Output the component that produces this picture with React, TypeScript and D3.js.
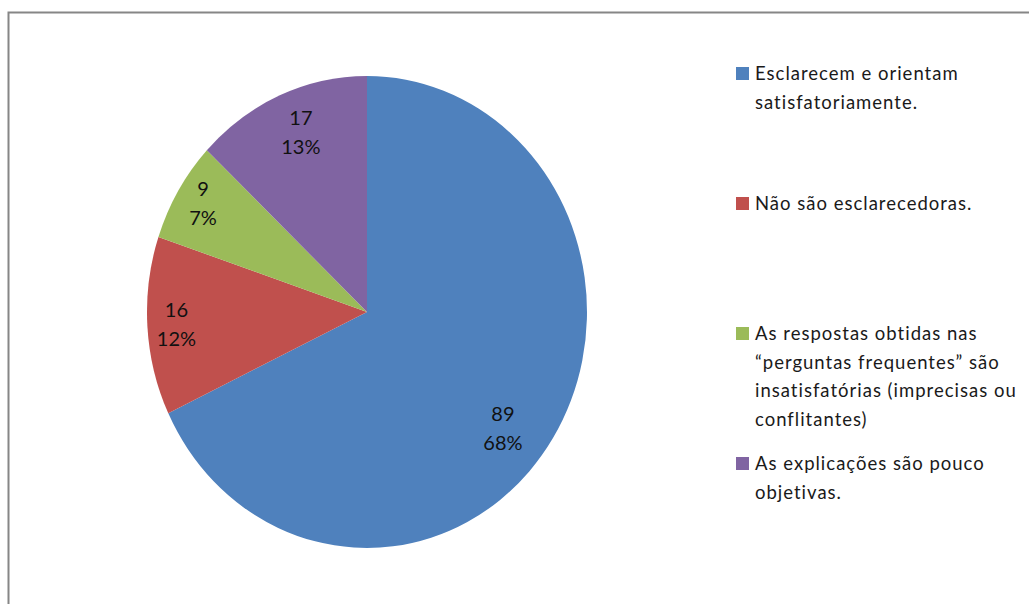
import React from "react";
import * as d3 from "d3";

const categories: string[][] = [
  ["Esclarecem e orientam", "satisfatoriamente."],
  ["Não são esclarecedoras."],
  ["As respostas obtidas nas", "“perguntas frequentes” são", "insatisfatórias (imprecisas ou", "conflitantes)"],
  ["As explicações são pouco", "objetivas."],
];
const values: number[] = [89, 16, 9, 17];
const percentLabels: string[] = ["68%", "12%", "7%", "13%"];
const colors: string[] = ["#4F81BD", "#C0504D", "#9BBB59", "#8064A2"];

// label placement (fraction of radius, angle nudge in degrees)
const labelRadius: number[] = [0.81, 0.87, 0.86, 0.79];
const labelNudge: number[] = [8, -2, -1, 1];

const W = 1029;
const H = 604;
const cx = 367;
const cy = 312;
const rx = 220;
const ry = 236;

export default function App() {
  const pie = d3.pie<number>().sort(null).value((d) => d);
  const arcs = pie(values);
  const arcGen = d3.arc<d3.PieArcDatum<number>>().innerRadius(0).outerRadius(ry);
  const sx = rx / ry;

  const fontFamily = "Lato, 'Open Sans', sans-serif";
  const legendX = 736;
  const legendTop = 67;
  const slot = 130;
  const lineH = 28.5;

  return (
    <svg
      width={W}
      height={H}
      style={{ position: "absolute", left: 0, top: 0, background: "#fff" }}
    >
      <rect x={0} y={0} width={W} height={H} fill="#fff" />
      <rect x={8.5} y={12.5} width={W + 20} height={H + 20} fill="none" stroke="#868686" strokeWidth={2} />
      <g transform={`translate(${cx},${cy}) scale(${sx},1)`}>
        {arcs.map((a, i) => (
          <path key={i} d={arcGen(a) || ""} fill={colors[i]} />
        ))}
      </g>
      {arcs.map((a, i) => {
        const mid = (a.startAngle + a.endAngle) / 2 + (labelNudge[i] * Math.PI) / 180;
        const x = cx + Math.sin(mid) * rx * labelRadius[i];
        const y = cy - Math.cos(mid) * ry * labelRadius[i];
        return (
          <g key={i} fontFamily={fontFamily} fontSize={20} fill="#111" textAnchor="middle">
            <text x={x} y={y - 14.5}>{values[i]}</text>
            <text x={x} y={y + 14.5}>{percentLabels[i]}</text>
          </g>
        );
      })}
      {categories.map((lines, i) => {
        const top = legendTop + i * slot;
        return (
          <g key={i}>
            <rect x={legendX} y={top} width={13} height={13} fill={colors[i]} />
            {lines.map((ln, j) => (
              <text
                key={j}
                x={legendX + 19}
                y={top + 13 + j * lineH}
                fontFamily={fontFamily}
                fontSize={18.5}
                letterSpacing={1}
                fill="#1a1a1a"
              >
                {ln}
              </text>
            ))}
          </g>
        );
      })}
    </svg>
  );
}
